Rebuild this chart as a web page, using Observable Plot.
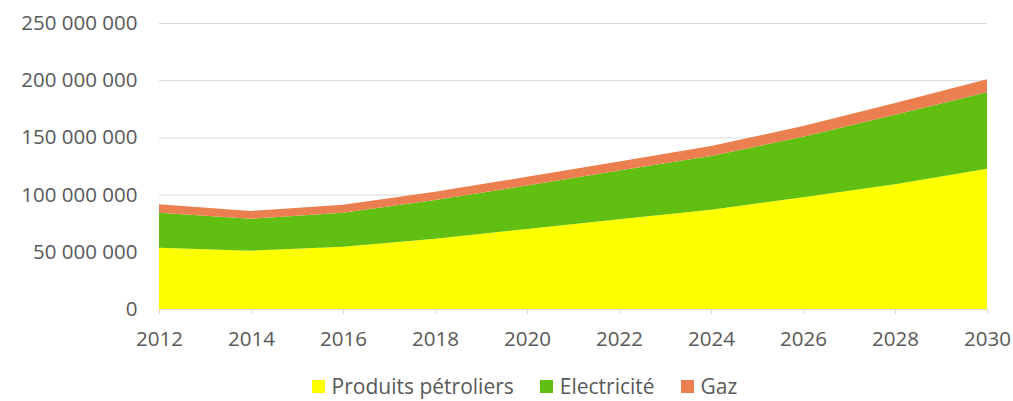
<!DOCTYPE html>
<html>
<head>
<meta charset="utf-8">
<script src="https://cdn.jsdelivr.net/npm/d3@7"></script>
<script src="https://cdn.jsdelivr.net/npm/@observablehq/plot@0.6"></script>
<style>
  html, body { margin: 0; padding: 0; background: #fff; }
  #chart { width: 1013px; height: 401px; position: relative; font-family: "Open Sans", sans-serif; }
  .legend { position: absolute; left: 0; width: 977px; padding-left: 36px; top: 374px; display: flex; justify-content: center; align-items: center; font-size: 21px; color: #595959; line-height: 24px; }
  .legend .item { display: flex; align-items: center; margin: 0 13px; }
  .legend .sw { width: 13px; height: 13px; margin-right: 7px; display: inline-block; }
</style>
</head>
<body>
<div id="chart"></div>
<script>
const years = [2012, 2014, 2016, 2018, 2020, 2022, 2024, 2026, 2028, 2030];
const seriesNames = ["Produits pétroliers", "Electricité", "Gaz"];
const seriesColors = ["#FFFF00", "#61BF12", "#EC7F4F"];
const produitsPetroliers = [53.6e6, 51.0e6, 54.5e6, 61.5e6, 70.0e6, 78.4e6, 86.8e6, 97.6e6, 109.0e6, 122.6e6];
const electricite = [30.6e6, 27.9e6, 29.7e6, 33.8e6, 38.0e6, 42.6e6, 46.9e6, 53.0e6, 60.9e6, 66.8e6];
const gaz = [7.3e6, 6.8e6, 7.0e6, 7.2e6, 7.5e6, 8.0e6, 8.7e6, 9.4e6, 10.2e6, 11.4e6];
const yTicks = [0, 50e6, 100e6, 150e6, 200e6, 250e6];

const seriesValues = [produitsPetroliers, electricite, gaz];
const data = [];
seriesNames.forEach((name, s) => {
  years.forEach((yr, i) => data.push({ year: yr, series: name, value: seriesValues[s][i] }));
});

const fmt = v => d3.format(",")(v).replace(/,/g, " ");

const plot = Plot.plot({
  width: 1013,
  height: 360,
  marginLeft: 159,
  marginRight: 26,
  marginTop: 23,
  marginBottom: 51,
  style: { fontFamily: "Open Sans, sans-serif", fontSize: "20.5px", color: "#595959", background: "#fff" },
  x: { domain: [2012, 2030], ticks: years, tickFormat: d => String(d), tickSize: 5, tickPadding: 18, label: null },
  y: { domain: [0, 250e6], ticks: yTicks, tickFormat: fmt, tickSize: 0, tickPadding: 22, label: null },
  color: { domain: seriesNames, range: seriesColors },
  marks: [
    Plot.gridY(yTicks, { stroke: "#d9d9d9", strokeOpacity: 1, strokeWidth: 1 }),
    Plot.areaY(data, { x: "year", y: "value", fill: "series", order: seriesNames, curve: "linear" }),
    Plot.ruleY([0], { stroke: "#d9d9d9", strokeWidth: 1 }),
    Plot.axisX({ ticks: years, tickFormat: d => String(d), tickSize: 5, tickPadding: 17, stroke: "#d9d9d9", fill: "#595959" }),
    Plot.axisY({ ticks: yTicks, tickFormat: fmt, tickSize: 0, tickPadding: 22, fill: "#595959" })
  ]
});
const chart = document.getElementById("chart");
chart.appendChild(plot);

const legend = document.createElement("div");
legend.className = "legend";
seriesNames.forEach((name, i) => {
  const item = document.createElement("div");
  item.className = "item";
  const sw = document.createElement("span");
  sw.className = "sw";
  sw.style.background = seriesColors[i];
  const t = document.createElement("span");
  t.textContent = name;
  item.appendChild(sw);
  item.appendChild(t);
  legend.appendChild(item);
});
chart.appendChild(legend);
</script>
</body>
</html>
